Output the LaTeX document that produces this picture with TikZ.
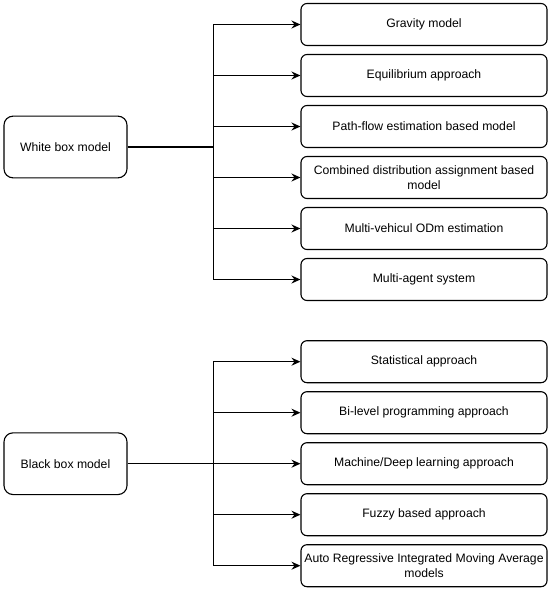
\documentclass[tikz,border=0pt]{standalone}
\usepackage{fontspec}
\setmainfont{Liberation Sans}
\usetikzlibrary{arrows.meta}
\begin{document}
\begin{tikzpicture}[x=1pt,y=-1pt,
  box/.style={draw, line width=1.1pt, rounded corners=6pt, minimum width=246pt, minimum height=42pt, align=center, inner sep=0pt, font=\fontsize{12.2}{14.5}\selectfont},
  root/.style={draw, line width=1.1pt, rounded corners=9pt, minimum width=123pt, minimum height=61.7pt, inner sep=0pt, font=\fontsize{12.2}{14.5}\selectfont},
  conn/.style={line width=1.1pt},
  arr/.style={conn, -{Stealth[length=9pt,width=8pt,inset=3pt]}}]
\useasboundingbox (0,0) rectangle (550,591);
\node[root] (w) at (65.5,147) {White box model};
\node[box] (g1) at (424,24.5) {Gravity model};
\node[box] (g2) at (424,75.5) {Equilibrium approach};
\node[box] (g3) at (424,126.5) {Path-flow estimation based model};
\node[box] (g4) at (424,177.5) {Combined distribution assignment based\\model};
\node[box] (g5) at (424,228.5) {Multi-vehicul ODm estimation};
\node[box] (g6) at (424,279.5) {Multi-agent system};
\node[root] (b) at (65.5,463.7) {Black box model};
\node[box] (h1) at (424,361.7) {Statistical approach};
\node[box] (h2) at (424,412.7) {Bi-level programming approach};
\node[box] (h3) at (424,463.7) {Machine/Deep learning approach};
\node[box] (h4) at (424,514.7) {Fuzzy based approach};
\node[box] (h5) at (424,565.7) {Auto Regressive Integrated Moving Average\\models};
\coordinate (tw) at (213.3,147);
\coordinate (tb) at (213.3,463.7);
\draw[conn] (w.east) -- (tw);
\foreach \n in {g1,g2,g3,g4,g5,g6} \draw[arr] (tw) |- (\n.west);
\draw[conn] (b.east) -- (tb);
\foreach \n in {h1,h2,h3,h4,h5} \draw[arr] (tb) |- (\n.west);
\end{tikzpicture}
\end{document}
